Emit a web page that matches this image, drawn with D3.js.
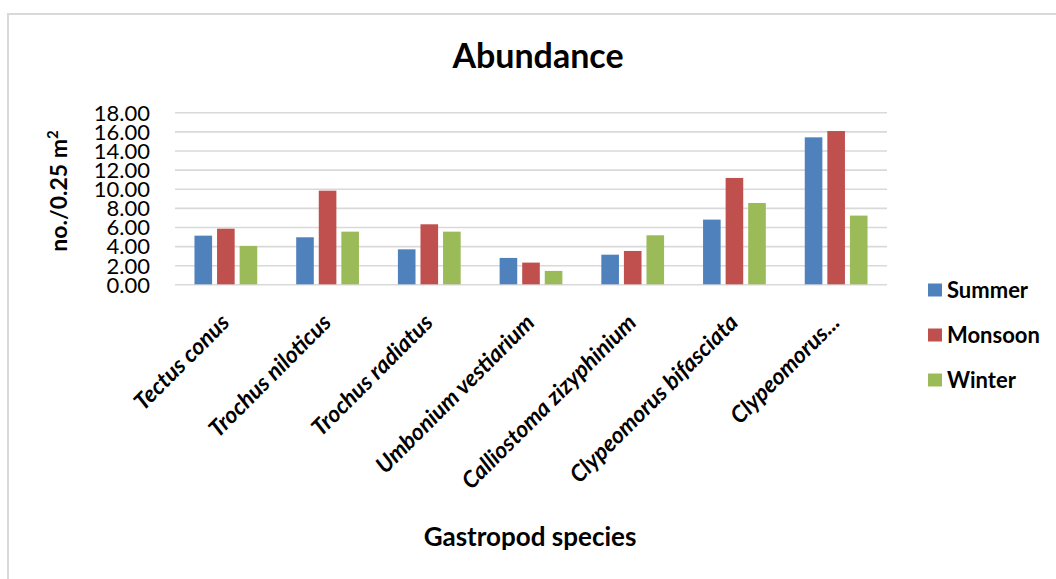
<!DOCTYPE html>
<html>
<head>
<meta charset="utf-8">
<script src="https://cdn.jsdelivr.net/npm/d3@7/dist/d3.min.js"></script>
<style>
  html, body { margin: 0; padding: 0; background: #fff; }
  svg { display: block; font-family: Lato, "Open Sans", sans-serif; }
</style>
</head>
<body>
<svg id="chart" width="1056" height="579"></svg>
<script>
// Gastropod abundance (no./0.25 m²) per season
const species = [
  "Tectus conus",
  "Trochus niloticus",
  "Trochus radiatus",
  "Umbonium vestiarium",
  "Calliostoma zizyphinium",
  "Clypeomorus bifasciata",
  "Clypeomorus..."
];
const seasons = ["Summer", "Monsoon", "Winter"];
const summer  = [5.09, 4.92, 3.66, 2.76, 3.10, 6.77, 15.38];
const monsoon = [5.82, 9.80, 6.28, 2.27, 3.49, 11.13, 16.04];
const winter  = [4.01, 5.51, 5.51, 1.40, 5.13, 8.51, 7.19];
const yTicks  = [0, 2, 4, 6, 8, 10, 12, 14, 16, 18];

const seriesValues = { Summer: summer, Monsoon: monsoon, Winter: winter };
const colors = { Summer: "#4F81BD", Monsoon: "#C0504D", Winter: "#9BBB59" };

const svg = d3.select("#chart");

// outer chart frame
svg.append("rect")
  .attr("x", 8).attr("y", 14)
  .attr("width", 1060).attr("height", 580)
  .attr("fill", "#fff")
  .attr("stroke", "#d9d9d9").attr("stroke-width", 2);

const plot = { left: 175, right: 887, top: 112.3, bottom: 284.3 };

const x0 = d3.scaleBand()
  .domain(species)
  .range([plot.left, plot.right])
  .paddingInner(0.383)
  .paddingOuter(0.1915);

const x1 = d3.scaleBand()
  .domain(seasons)
  .range([0, x0.bandwidth()])
  .paddingInner(0.22)
  .paddingOuter(0);

const y = d3.scaleLinear().domain([0, 18]).range([plot.bottom, plot.top]);

// horizontal gridlines + y tick labels via axis
const yAxis = d3.axisLeft(y)
  .tickValues(yTicks)
  .tickFormat(d3.format(".2f"))
  .tickSize(-(plot.right - plot.left))
  .tickPadding(25);

const gy = svg.append("g")
  .attr("transform", `translate(${plot.left},0)`)
  .call(yAxis);
gy.select(".domain").remove();
gy.selectAll(".tick line")
  .attr("stroke", "#d9d9d9").attr("stroke-width", 1.6);
gy.selectAll(".tick text")
  .attr("font-family", "Lato, sans-serif")
  .attr("font-size", 22)
  .attr("fill", "#000")
  .attr("dy", "0.36em");

// bars
const groups = svg.append("g").selectAll("g")
  .data(species)
  .join("g")
  .attr("transform", d => `translate(${x0(d)},0)`);

groups.selectAll("rect")
  .data((d, i) => seasons.map(s => ({ s, v: seriesValues[s][i] })))
  .join("rect")
  .attr("x", d => x1(d.s))
  .attr("width", x1.bandwidth())
  .attr("y", d => y(d.v))
  .attr("height", d => y(0) - y(d.v))
  .attr("fill", d => colors[d.s]);

// rotated category labels
const gx = svg.append("g");
gx.selectAll("text")
  .data(species)
  .join("text")
  .attr("transform", d => `translate(${x0(d) + x0.bandwidth() / 2 + 5},324) rotate(-45)`)
  .attr("text-anchor", "end")
  .attr("font-size", 23)
  .attr("font-weight", "bold")
  .attr("font-style", "italic")
  .attr("fill", "#000")
  .text(d => d);

// title
svg.append("text")
  .attr("x", 538).attr("y", 68)
  .attr("text-anchor", "middle")
  .attr("font-size", 34)
  .attr("font-weight", "bold")
  .text("Abundance");

// x axis title
svg.append("text")
  .attr("x", 530).attr("y", 546)
  .attr("text-anchor", "middle")
  .attr("font-size", 26)
  .attr("font-weight", "bold")
  .text("Gastropod species");

// y axis title
const yt = svg.append("text")
  .attr("transform", "translate(67,191) rotate(-90)")
  .attr("text-anchor", "middle")
  .attr("font-size", 23)
  .attr("font-weight", "bold");
yt.append("tspan").text("no./0.25 m");
yt.append("tspan").attr("dy", -9).attr("font-size", 15).text("2");

// legend
const legend = svg.append("g").selectAll("g")
  .data(seasons)
  .join("g")
  .attr("transform", (d, i) => `translate(928,${290 + i * 45})`);
legend.append("rect")
  .attr("x", 0).attr("y", -6.5)
  .attr("width", 14).attr("height", 13)
  .attr("fill", d => colors[d]);
legend.append("text")
  .attr("x", 19).attr("y", 0)
  .attr("dy", "0.36em")
  .attr("font-size", 22)
  .attr("font-weight", "bold")
  .text(d => d);
</script>
</body>
</html>
